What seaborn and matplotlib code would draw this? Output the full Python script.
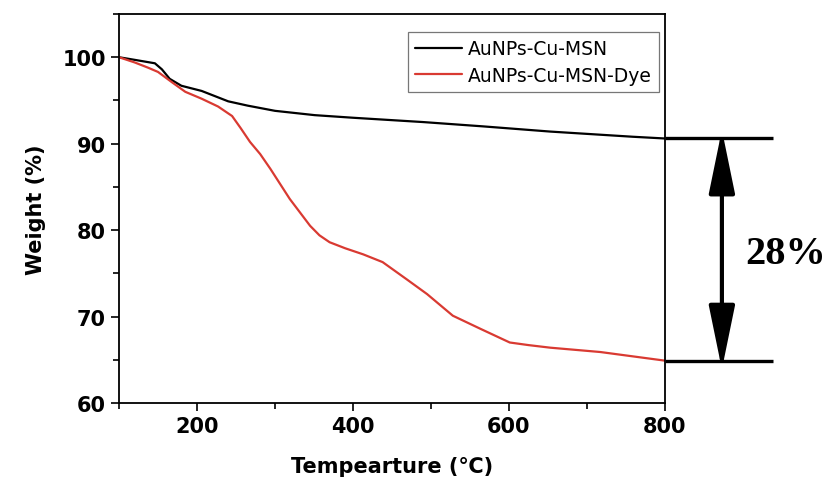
import matplotlib
matplotlib.use("Agg")
import matplotlib.pyplot as plt
import seaborn as sns
import pandas as pd
from matplotlib.ticker import MultipleLocator

# ---- data ----
temp_black = [100, 120, 146, 155, 165, 180, 206, 223, 240, 265, 300, 351, 400,
              490, 567, 653, 759, 800]
weight_black = [100, 99.7, 99.3, 98.6, 97.5, 96.7, 96.1, 95.5, 94.9, 94.4, 93.8,
                93.3, 93.0, 92.5, 92.0, 91.4, 90.8, 90.6]

temp_red = [100, 120, 137, 150, 168, 185, 206, 227, 245, 256, 268, 281, 294, 319,
            345, 357, 370, 390, 413, 438, 469, 495, 528, 563, 601, 625, 653, 717,
            800]
weight_red = [100, 99.4, 98.8, 98.3, 97.1, 96.0, 95.2, 94.3, 93.2, 91.8, 90.2,
              88.8, 87.1, 83.6, 80.5, 79.4, 78.6, 77.9, 77.2, 76.3, 74.3, 72.6,
              70.1, 68.6, 67.0, 66.7, 66.4, 65.9, 64.9]

series_names = ["AuNPs-Cu-MSN", "AuNPs-Cu-MSN-Dye"]
series_colors = ["#000000", "#d93a32"]
x_label = "Tempearture (\u2103)"
y_label = "Weight (%)"
loss_label = "28%"
loss_top = 90.6
loss_bottom = 64.9

df = pd.concat([
    pd.DataFrame({"T": temp_black, "W": weight_black, "s": series_names[0]}),
    pd.DataFrame({"T": temp_red, "W": weight_red, "s": series_names[1]}),
])

sns.set_style("ticks")
plt.rcParams["font.family"] = ["DejaVu Sans"]
for k in ["text.color", "axes.labelcolor", "xtick.color", "ytick.color",
          "axes.edgecolor"]:
    plt.rcParams[k] = "black"

fig = plt.figure(figsize=(8.31, 4.89), dpi=100)
ax = fig.add_axes([0.1432, 0.1738, 0.657, 0.7955])

sns.lineplot(data=df, x="T", y="W", hue="s", palette=series_colors, ax=ax,
             linewidth=1.6, sort=False, estimator=None)

ax.set_xlim(100, 800)
ax.set_ylim(60, 105)
ax.xaxis.set_major_locator(MultipleLocator(200))
ax.xaxis.set_minor_locator(MultipleLocator(100))
ax.yaxis.set_major_locator(MultipleLocator(10))
ax.yaxis.set_minor_locator(MultipleLocator(5))
ax.set_xticks([200, 400, 600, 800])
ax.tick_params(which="major", direction="out", length=6, width=1.2,
               labelsize=15, color="black", labelcolor="black",
               top=False, right=False)
ax.tick_params(which="minor", direction="out", length=4, width=1.2,
               top=False, right=False)
for lab in ax.get_xticklabels() + ax.get_yticklabels():
    lab.set_fontweight("bold")
for sp in ax.spines.values():
    sp.set_visible(True)
    sp.set_linewidth(1.3)
    sp.set_color("black")

ax.set_xlabel(x_label, fontsize=15, fontweight="bold", labelpad=14,
              color="black")
ax.set_ylabel(y_label, fontsize=15, fontweight="bold", labelpad=12,
              color="black")

leg = ax.legend(loc="upper right", bbox_to_anchor=(0.989, 0.954),
                borderaxespad=0, fontsize=13.5, frameon=True, fancybox=False,
                handlelength=2.5, handletextpad=0.3, labelspacing=0.4,
                borderpad=0.4)
leg.get_frame().set_edgecolor("#555555")
leg.get_frame().set_linewidth(0.9)
for line in leg.get_lines():
    line.set_linewidth(1.6)
for t in leg.get_texts():
    t.set_color("black")

# annotation: horizontal guide lines and double arrow
ax.plot([800, 938], [loss_top, loss_top], color="black", lw=2.4, clip_on=False,
        solid_capstyle="butt")
ax.plot([800, 938], [loss_bottom, loss_bottom], color="black", lw=2.4,
        clip_on=False, solid_capstyle="butt")
ax.annotate("", xy=(873, loss_top + 1.0), xytext=(873, loss_bottom - 1.0),
            xycoords="data", textcoords="data", annotation_clip=False,
            arrowprops=dict(arrowstyle="<|-|>,head_length=3.9,head_width=0.8",
                            color="black", lw=3.0, shrinkA=0, shrinkB=0))
ax.text(903, 77.3, loss_label, fontsize=29, fontweight="bold",
        family="Liberation Serif", ha="left", va="center", clip_on=False,
        color="black")

fig.savefig("out.png", dpi=100, facecolor="white")
